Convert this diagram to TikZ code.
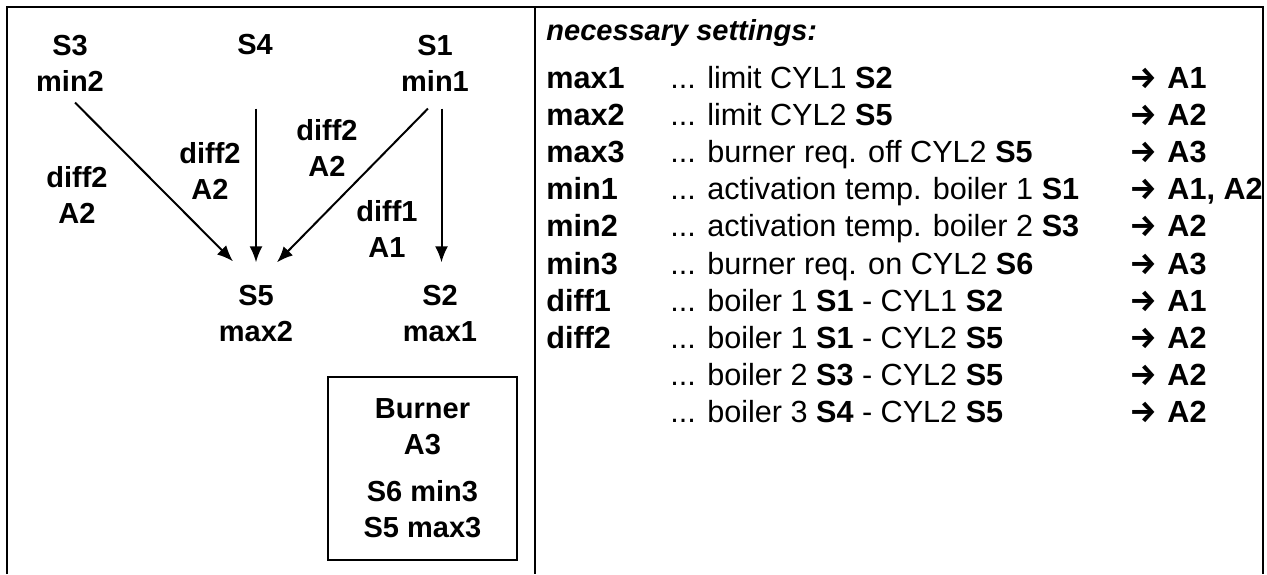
\documentclass[tikz,border=0pt]{standalone}
\usepackage{fontspec}
\setmainfont{Liberation Sans}
\newfontfamily\arrowfont{Fira Sans}
\usetikzlibrary{arrows.meta}
\newcommand\goesto[1]{\makebox[19pt][l]{\arrowfont\bfseries →}\textbf{#1}}
\tikzset{
    sig/.style={font=\bfseries\fontsize{14.5pt}{18pt}\selectfont, align=center, inner sep=0pt},
    frame/.style={line width=1.2pt},
    flow/.style={line width=1pt, -{Latex[length=8pt,width=6.5pt]}},
    burnerbox/.style={draw, line width=0.8pt, minimum width=94.5pt, minimum height=91.5pt, inner sep=0pt, align=center, font=\bfseries\fontsize{14.5pt}{18pt}\selectfont},
    settext/.style={font=\fontsize{15.3pt}{18.6pt}\selectfont, inner sep=0pt, anchor=base west},
}
\begin{document}
\begin{tikzpicture}[x=0.5pt,y=-0.5pt]
    \useasboundingbox (0,0) rectangle (1267,574);
    \draw[frame] (7,574) -- (7,7) -- (1263,7) -- (1263,574);
    \draw[frame] (535,7) -- (535,574);

    \node[sig] (s3) at (70,63) {S3\\min2};
    \node[sig] (s4) at (255,45) {S4};
    \node[sig] (s1) at (435,63) {S1\\min1};
    \node[sig] (s5) at (256,314) {S5\\max2};
    \node[sig] (s2) at (440,314) {S2\\max1};

    \node[sig] (d3) at (77,195) {diff2\\A2};
    \node[sig] (d4) at (210,171) {diff2\\A2};
    \node[sig] (d1) at (327,148) {diff2\\A2};
    \node[sig] (d12) at (387,229) {diff1\\A1};

    \draw[flow] ([xshift=2.5pt,yshift=-5.5pt]s3.south) -- ([xshift=-11.5pt,yshift=12pt]s5.north);
    \draw[flow] ([xshift=0.5pt,yshift=-26.5pt]s4.south) -- ([yshift=11.5pt]s5.north);
    \draw[flow] ([xshift=-3.5pt,yshift=-8.5pt]s1.south) -- ([xshift=10.5pt,yshift=11.5pt]s5.north);
    \draw[flow] ([xshift=3.25pt,yshift=-8.5pt]s1.south) -- ([xshift=0.75pt,yshift=11.5pt]s2.north);

    \node[burnerbox] (burner) at (422.5,468.5) {Burner\\A3\\[5.5pt]S6 min3\\S5 max3};

    \node[settext, font=\fontsize{14.5pt}{18.6pt}\selectfont] (head) at (546,40) {\bfseries\itshape necessary settings:};
    \node[settext] (settings) at (546,88) {%
        \begin{tabular}[t]{@{}p{62pt}@{}p{229.5pt}@{}l@{}}
            \textbf{max1} & ... limit CYL1 \textbf{S2} & \goesto{A1}\\
            \textbf{max2} & ... limit CYL2 \textbf{S5} & \goesto{A2}\\
            \textbf{max3} & ... burner req. off CYL2 \textbf{S5} & \goesto{A3}\\
            \textbf{min1} & ... activation temp. boiler 1 \textbf{S1} & \goesto{A1, A2}\\
            \textbf{min2} & ... activation temp. boiler 2 \textbf{S3} & \goesto{A2}\\
            \textbf{min3} & ... burner req. on CYL2 \textbf{S6} & \goesto{A3}\\
            \textbf{diff1} & ... boiler 1 \textbf{S1} - CYL1 \textbf{S2} & \goesto{A1}\\
            \textbf{diff2} & ... boiler 1 \textbf{S1} - CYL2 \textbf{S5} & \goesto{A2}\\
             & ... boiler 2 \textbf{S3} - CYL2 \textbf{S5} & \goesto{A2}\\
             & ... boiler 3 \textbf{S4} - CYL2 \textbf{S5} & \goesto{A2}
        \end{tabular}};
\end{tikzpicture}
\end{document}
